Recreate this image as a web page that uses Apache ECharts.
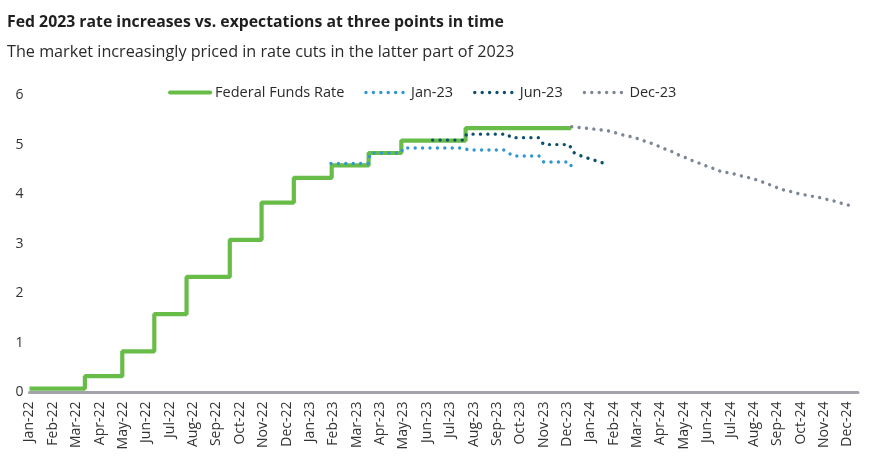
<!DOCTYPE html>
<html>
<head>
<meta charset="utf-8">
<script src="https://cdn.jsdelivr.net/npm/echarts@6/dist/echarts.min.js"></script>
<style>
html,body{margin:0;padding:0;background:#fff;}
#chart{width:888px;height:469px;}
</style>
</head>
<body>
<div id="chart"></div>
<script>
// Tick labels (one per month, index 0 = Jan-22)
const monthLabels = ['Jan-22','Feb-22','Mar-22','Apr-22','May-22','Jun-22','Jul-22','Aug-22','Sep-22','Oct-22','Nov-22','Dec-22',
  'Jan-23','Feb-23','Mar-23','Apr-23','May-23','Jun-23','Jul-23','Aug-23','Sep-23','Oct-23','Nov-23','Dec-23',
  'Jan-24','Feb-24','Mar-24','Apr-24','May-24','Jun-24','Jul-24','Aug-24','Sep-24','Oct-24','Nov-24','Dec-24'];

// Federal Funds Rate (step), x in months since Jan-22
const fedX = [0, 2.37, 3.97, 5.34, 6.72, 8.57, 9.93, 11.31, 12.93, 14.51, 15.91, 18.66, 23.18];
const fedY = [0.08, 0.33, 0.83, 1.58, 2.33, 3.08, 3.83, 4.33, 4.58, 4.83, 5.08, 5.33, 5.33];

// Jan-23 expectations
const jan23X = [12.9, 14.5, 14.58, 15.9, 15.98, 18.55, 18.8, 20.3, 20.7, 21.8, 22.0, 23.1, 23.2];
const jan23Y = [4.62, 4.62, 4.83, 4.83, 4.93, 4.93, 4.89, 4.89, 4.77, 4.77, 4.65, 4.65, 4.55];

// Jun-23 expectations
const jun23X = [17.25, 18.6, 18.7, 20.45, 20.6, 21.8, 22.0, 23.1, 23.25, 23.5, 23.8, 24.05, 24.35, 24.6];
const jun23Y = [5.09, 5.09, 5.21, 5.21, 5.14, 5.14, 5.0, 5.0, 4.85, 4.79, 4.74, 4.70, 4.66, 4.62];

// Dec-23 expectations
const dec23X = [23.2, 24.2, 24.83, 25.13, 25.42, 25.72, 26.02, 26.32, 26.58, 26.86, 27.14, 27.4, 27.67, 27.94, 28.21, 28.48, 28.76, 29.04, 29.32, 29.62, 29.92, 30.22, 30.52, 30.8, 31.1, 31.39, 31.67, 31.94, 32.21, 32.51, 32.81, 33.13, 33.44, 33.74, 34.06, 34.36, 34.64, 34.93, 35.23];
const dec23Y = [5.36, 5.31, 5.27, 5.23, 5.19, 5.16, 5.12, 5.07, 5.03, 4.98, 4.92, 4.88, 4.81, 4.76, 4.71, 4.65, 4.61, 4.55, 4.51, 4.45, 4.43, 4.40, 4.36, 4.33, 4.29, 4.24, 4.19, 4.14, 4.09, 4.06, 4.02, 3.99, 3.96, 3.94, 3.90, 3.87, 3.83, 3.79, 3.76];

const zip = (xs, ys) => xs.map((x, i) => [x, ys[i]]);
const FONT = '"Open Sans", Lato, sans-serif';

const chart = echarts.init(document.getElementById('chart'), null, {renderer: 'canvas'});
const dotted = (color) => ({color: color, width: 3.4, type: [0.01, 7.4], cap: 'round'});
const COLORS = {fed: '#68bd48', jan: '#2f98d2', jun: '#0f4f6d', dec: '#7b8797'};

chart.setOption({
  animation: false,
  backgroundColor: '#fff',
  title: [
    {text: 'Fed 2023 rate increases vs. expectations at three points in time', left: 7, top: 14, padding: 0,
     textStyle: {fontFamily: FONT, fontSize: 15.8, fontWeight: 'bold', color: '#1f1f1f'}},
    {text: 'The market increasingly priced in rate cuts in the latter part of 2023', left: 7, top: 44, padding: 0,
     textStyle: {fontFamily: FONT, fontSize: 16.2, fontWeight: 'normal', color: '#2a2a2a'}}
  ],
  legend: {
    left: 168, top: 85, padding: 0, itemWidth: 40, itemHeight: 14, itemGap: 20,
    itemStyle: {opacity: 0},
    textStyle: {fontFamily: FONT, fontSize: 14.5, color: '#2a2a2a'},
    data: [
      {name: 'Federal Funds Rate', lineStyle: {color: COLORS.fed, width: 4.2, cap: 'round'}},
      {name: 'Jan-23', lineStyle: dotted(COLORS.jan)},
      {name: 'Jun-23', lineStyle: dotted(COLORS.jun)},
      {name: 'Dec-23', lineStyle: dotted(COLORS.dec)}
    ]
  },
  grid: {left: 29.5, right: 30, top: 95, bottom: 76.5, containLabel: false},
  xAxis: {
    type: 'value', min: 0, max: 35.45, interval: 1,
    splitLine: {show: false},
    axisLine: {show: true, onZero: false, lineStyle: {color: '#a3a3ab', width: 3}},
    axisTick: {show: false},
    axisLabel: {
      rotate: 90, margin: 9, fontFamily: FONT, fontSize: 14, color: '#333',
      showMinLabel: true, showMaxLabel: true,
      formatter: v => (Math.abs(v - Math.round(v)) < 1e-6 && monthLabels[Math.round(v)]) ? monthLabels[Math.round(v)] : ''
    }
  },
  yAxis: {
    type: 'value', min: 0, max: 6, interval: 1,
    splitLine: {show: false},
    axisLine: {show: false}, axisTick: {show: false},
    axisLabel: {margin: 10, fontFamily: FONT, fontSize: 14, color: '#333', align: 'center'}
  },
  series: [
    {name: 'Federal Funds Rate', type: 'line', step: 'end', showSymbol: false, symbol: 'none',
     data: zip(fedX, fedY), lineStyle: {color: COLORS.fed, width: 4.2}, itemStyle: {color: COLORS.fed}, z: 2},
    {name: 'Jan-23', type: 'line', showSymbol: false, symbol: 'none',
     data: zip(jan23X, jan23Y), lineStyle: dotted(COLORS.jan), itemStyle: {color: COLORS.jan}, z: 3},
    {name: 'Jun-23', type: 'line', showSymbol: false, symbol: 'none',
     data: zip(jun23X, jun23Y), lineStyle: dotted(COLORS.jun), itemStyle: {color: COLORS.jun}, z: 4},
    {name: 'Dec-23', type: 'line', showSymbol: false, symbol: 'none',
     data: zip(dec23X, dec23Y), lineStyle: dotted(COLORS.dec), itemStyle: {color: COLORS.dec}, z: 3}
  ]
});
</script>
</body>
</html>
